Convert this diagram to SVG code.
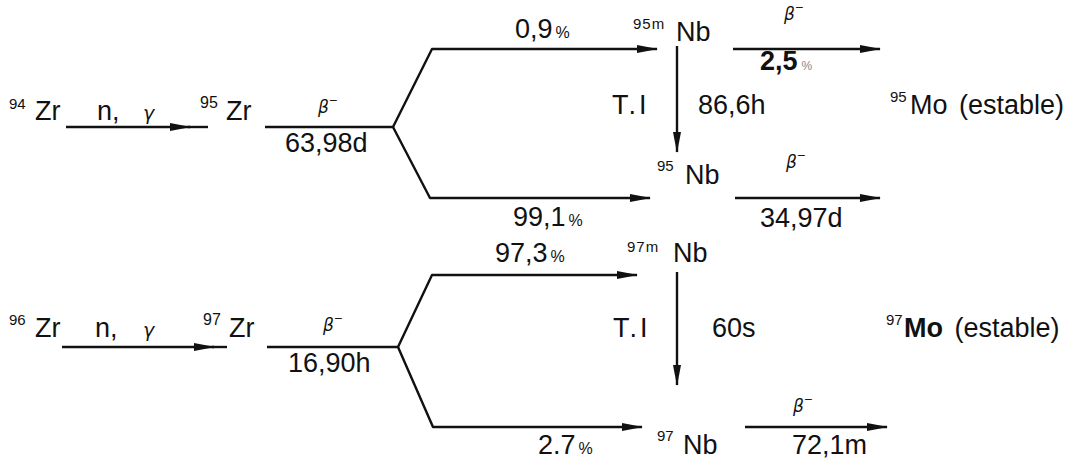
<svg xmlns="http://www.w3.org/2000/svg" width="1072" height="460" viewBox="0 0 1072 460">
<style>
text{font-family:"Liberation Sans",Arial,sans-serif;fill:#111}
.m{font-size:27px}
.s{font-size:15px}
.p{font-size:16px}
.g{font-family:"DejaVu Sans",sans-serif;font-style:italic;font-size:19px}
.b{font-family:"DejaVu Sans",sans-serif;font-style:italic;font-size:17px}
.bm{font-size:11px}
.ln{fill:none;stroke:#111;stroke-width:2.4;stroke-linejoin:round}
</style>
<defs>
<marker id="ah" markerUnits="userSpaceOnUse" markerWidth="22" markerHeight="10" refX="20" refY="5" orient="auto">
<path d="M0,1 L21,5 L0,9 z" fill="#111"/>
</marker>
</defs>
<rect width="1072" height="460" fill="#fff"/>

<g id="connectors">
<path class="ln" d="M66,127 H190" marker-end="url(#ah)"/>
<path class="ln" d="M188,127 H208"/>
<path class="ln" d="M265,127 H393"/>
<path class="ln" d="M393,127 L432,49 H657" marker-end="url(#ah)"/>
<path class="ln" d="M393,127 L430,198 H650" marker-end="url(#ah)"/>
<path class="ln" d="M677,46 V152" marker-end="url(#ah)"/>
<path class="ln" d="M733,49 H880" marker-end="url(#ah)"/>
<path class="ln" d="M735,198 H880" marker-end="url(#ah)"/>
<path class="ln" d="M62,347 H214" marker-end="url(#ah)"/>
<path class="ln" d="M212,347 H227"/>
<path class="ln" d="M267,347 H398"/>
<path class="ln" d="M398,347 L432,275 H637" marker-end="url(#ah)"/>
<path class="ln" d="M398,347 L433,427 H642" marker-end="url(#ah)"/>
<path class="ln" d="M677,272 V385" marker-end="url(#ah)"/>
<path class="ln" d="M745,427 H887" marker-end="url(#ah)"/>

<text class="m" x="97" y="120">n,</text>
<text class="g" x="143" y="120">γ</text>
<text class="b" x="318" y="113">β<tspan class="bm" dy="-9">−</tspan></text>
<text class="m" x="285" y="152">63,98d</text>
<text x="515" y="38"><tspan class="m">0,9</tspan><tspan class="p" dx="3">%</tspan></text>
<text x="513" y="226"><tspan class="m">99,1</tspan><tspan class="p" dx="3">%</tspan></text>
<text class="m" x="612" y="114" letter-spacing="3">T.I</text>
<text class="m" x="698" y="114">86,6h</text>
<text class="b" x="784" y="20">β<tspan class="bm" dy="-9">−</tspan></text>
<text x="760" y="70"><tspan class="m" font-weight="bold">2,5</tspan><tspan font-size="12" fill="#888" dx="4">%</tspan></text>
<text class="b" x="786" y="168">β<tspan class="bm" dy="-9">−</tspan></text>
<text class="m" x="760" y="227">34,97d</text>

<text class="m" x="95" y="337">n,</text>
<text class="g" x="143" y="337">γ</text>
<text class="b" x="323" y="331">β<tspan class="bm" dy="-9">−</tspan></text>
<text class="m" x="288" y="372">16,90h</text>
<text x="495" y="262"><tspan class="m">97,3</tspan><tspan class="p" dx="3">%</tspan></text>
<text class="m" x="613" y="337" letter-spacing="3">T.I</text>
<text class="m" x="712" y="337">60s</text>
<text x="538" y="454"><tspan class="m">2.7</tspan><tspan class="p" dx="3">%</tspan></text>
<text class="b" x="793" y="412">β<tspan class="bm" dy="-9">−</tspan></text>
<text class="m" x="792" y="454">72,1m</text>
</g>

<g id="zr94"><text class="s" x="9" y="109">94</text><text class="m" x="35" y="120">Zr</text></g>
<g id="zr95"><text class="p" x="200" y="108">95</text><text class="m" x="226" y="120">Zr</text></g>
<g id="nb95m"><text class="s" x="633" y="29" letter-spacing="1">95m</text><text class="m" x="676" y="41">Nb</text></g>
<g id="nb95"><text class="s" x="657" y="171">95</text><text class="m" x="685" y="184">Nb</text></g>
<g id="mo95"><text class="s" x="890" y="102">95</text><text class="m" x="910" y="114">Mo <tspan dx="4">(estable)</tspan></text></g>

<g id="zr96"><text class="s" x="9" y="325">96</text><text class="m" x="35" y="337">Zr</text></g>
<g id="zr97"><text class="p" x="203" y="325">97</text><text class="m" x="229" y="337">Zr</text></g>
<g id="nb97m"><text class="s" x="627" y="252" letter-spacing="1">97m</text><text class="m" x="673" y="262">Nb</text></g>
<g id="nb97"><text class="s" x="657" y="441">97</text><text class="m" x="683" y="454">Nb</text></g>
<g id="mo97"><text class="s" x="886" y="325">97</text><text class="m" x="904" y="337"><tspan font-weight="bold">Mo</tspan> <tspan dx="4">(estable)</tspan></text></g>
</svg>
